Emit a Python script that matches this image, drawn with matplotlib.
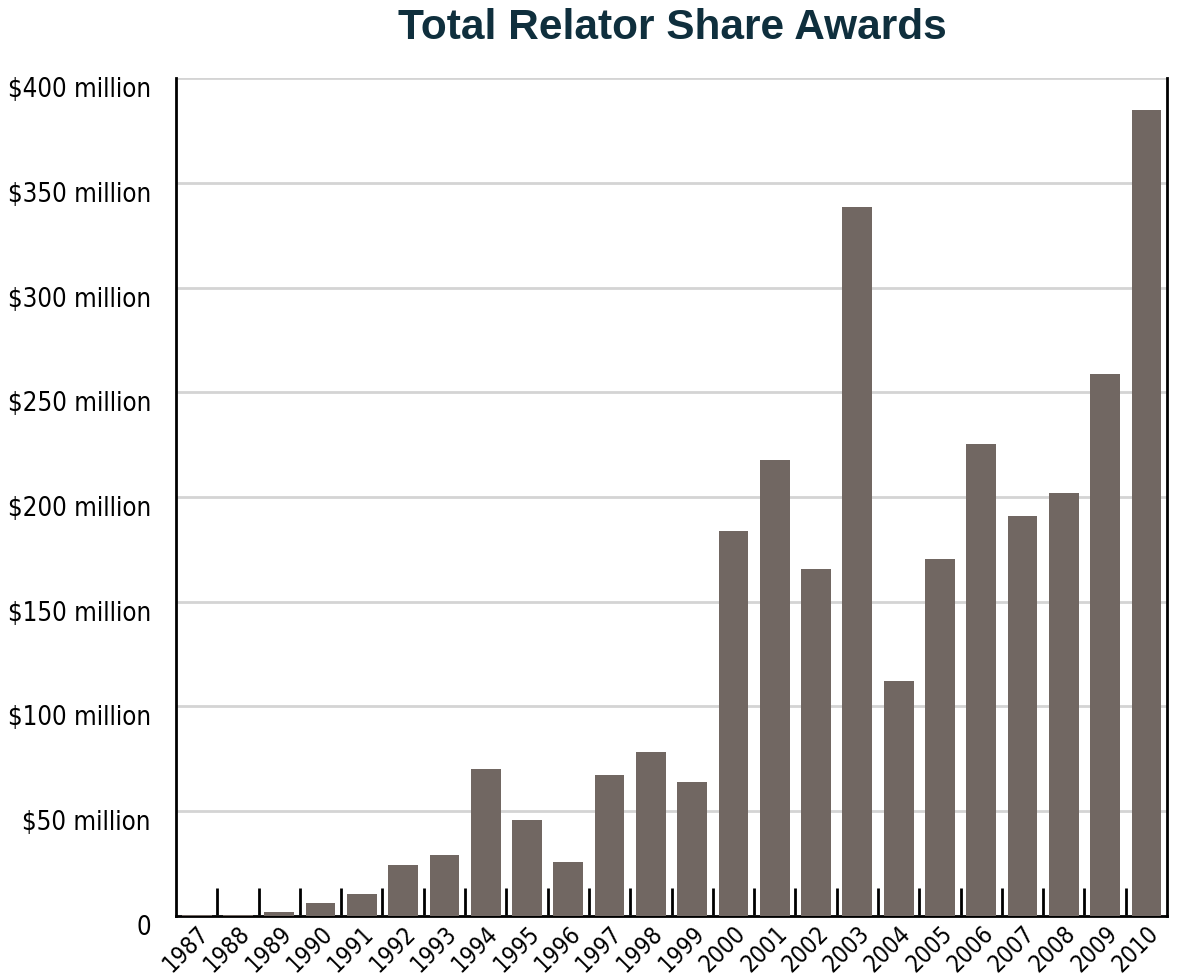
import matplotlib
matplotlib.use("Agg")
import matplotlib.pyplot as plt
from matplotlib import font_manager
from matplotlib import transforms
import numpy as np

years = [str(y) for y in range(1987, 2011)]
awards = [0.3, 0.6, 2.0, 6.2, 10.5, 24.3, 29.0, 70.2, 45.8, 25.8, 67.3, 78.3,
          64.0, 183.8, 217.7, 165.6, 338.4, 112.2, 170.4, 225.3, 190.9, 201.9,
          258.7, 384.7]
ytick_vals = [0, 50, 100, 150, 200, 250, 300, 350, 400]
ytick_labels = ["0"] + ["\\$%d million" % v for v in ytick_vals[1:]]

# look for a narrow face for the tick labels
fonts = font_manager.fontManager.ttflist
names = {f.name for f in fonts}
if "Liberation Sans Narrow" in names:
    tick_font = dict(family="Liberation Sans Narrow")
elif any(f.name == "DejaVu Sans" and f.stretch == "condensed" for f in fonts):
    tick_font = dict(family="DejaVu Sans", stretch="condensed")
else:
    tick_font = dict(family="Liberation Sans")

fig = plt.figure(figsize=(11.78, 9.78), dpi=100)
ax = fig.add_axes([0.1494, 0.0624, 0.8413, 0.8568])

x = np.arange(len(years))
ax.bar(x, awards, width=0.72, color="#716762", zorder=3)

ax.set_xlim(-0.5, len(years) - 0.5)
ax.set_ylim(0, 400)
ax.set_yticks(ytick_vals)
ax.set_yticklabels(ytick_labels, fontsize=18.5, **tick_font)
ax.tick_params(axis="y", length=0, pad=18)
# labels sit a little below their grid lines
shift = transforms.ScaledTranslation(0, -8 / 100, fig.dpi_scale_trans)
for lbl in ax.get_yticklabels():
    lbl.set_transform(lbl.get_transform() + shift)
ax.yaxis.grid(True, color="#d4d4d4", linewidth=2, zorder=0)

# tick marks sit on the category boundaries, labels at bar centres
ax.set_xticks(x[:-1] + 0.5)
ax.set_xticklabels([])
ax.tick_params(axis="x", which="major", direction="in", length=20, width=2, color="black")
ax.set_xticks(x, minor=True)
ax.set_xticklabels(years, minor=True, rotation=45, ha="right", rotation_mode="anchor",
                   fontsize=17, **tick_font)
ax.tick_params(axis="x", which="minor", length=0, pad=3)

for side in ["left", "right", "bottom"]:
    ax.spines[side].set_linewidth(2)
    ax.spines[side].set_color("black")
ax.spines["top"].set_visible(False)

fig.text(0.571, 0.971, "Total Relator Share Awards", ha="center", va="center",
         fontsize=30.5, fontweight="bold", color="#0f2f3d", fontname="Liberation Sans")

fig.savefig("out.png", dpi=100)
